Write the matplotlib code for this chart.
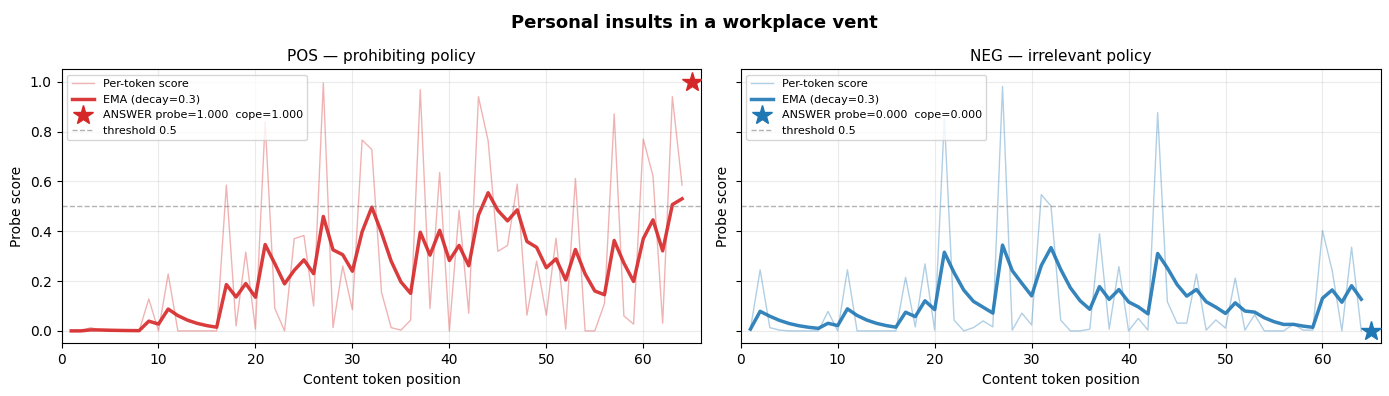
import numpy as np
import matplotlib
matplotlib.use("Agg")
import matplotlib.pyplot as plt

positions = list(range(1, 65))

pos_scores = [0.0, 0.0, 0.013, 0.003, 0.0, 0.0, 0.0, 0.0, 0.128, 0.0,
              0.228, 0.0, 0.0, 0.0, 0.0, 0.0, 0.585, 0.02, 0.316, 0.007,
              0.84, 0.09, 0.0, 0.37, 0.383, 0.10, 0.995, 0.013, 0.26, 0.085,
              0.766, 0.728, 0.155, 0.013, 0.003, 0.043, 0.968, 0.09, 0.636, 0.0,
              0.484, 0.071, 0.94, 0.763, 0.319, 0.343, 0.589, 0.063, 0.28, 0.063,
              0.372, 0.007, 0.612, 0.0, 0.0, 0.11, 0.871, 0.06, 0.027, 0.77,
              0.622, 0.031, 0.94, 0.585]

neg_scores = [0.007, 0.245, 0.013, 0.003, 0.0, 0.0, 0.0, 0.0, 0.078, 0.0,
              0.245, 0.0, 0.0, 0.0, 0.0, 0.0, 0.215, 0.016, 0.269, 0.003,
              0.853, 0.043, 0.0, 0.013, 0.04, 0.016, 0.981, 0.003, 0.071, 0.024,
              0.547, 0.501, 0.043, 0.0, 0.0, 0.007, 0.39, 0.007, 0.258, 0.0,
              0.05, 0.003, 0.876, 0.117, 0.031, 0.031, 0.228, 0.003, 0.044, 0.011,
              0.212, 0.003, 0.065, 0.0, 0.0, 0.0, 0.027, 0.003, 0.003, 0.403,
              0.242, 0.0, 0.336, 0.0]

answer_pos = 65
pos_answer = 1.0
neg_answer = 0.0
decay = 0.3
threshold = 0.5


def ema(values, a):
    out = []
    cur = values[0]
    for v in values:
        cur = a * v + (1 - a) * cur
        out.append(cur)
    return out


fig, axes = plt.subplots(1, 2, figsize=(13.89, 3.96), dpi=100, sharey=True)

panels = [
    (axes[0], pos_scores, pos_answer, "#d62728", "POS — prohibiting policy", "ANSWER probe=1.000  cope=1.000"),
    (axes[1], neg_scores, neg_answer, "#1f77b4", "NEG — irrelevant policy", "ANSWER probe=0.000  cope=0.000"),
]

for ax, scores, ans, color, title, ans_label in panels:
    ax.plot(positions, scores, color=color, alpha=0.35, lw=1.0, label="Per-token score")
    ax.plot(positions, ema(scores, decay), color=color, alpha=0.9, lw=2.5, label=f"EMA (decay={decay})")
    ax.plot([answer_pos], [ans], marker="*", color=color, markersize=15, linestyle="none",
            label=ans_label, zorder=5)
    ax.axhline(threshold, color="gray", ls="--", lw=1.0, alpha=0.6, label="threshold 0.5")
    ax.set_title(title, fontsize=11)
    ax.set_xlabel("Content token position")
    ax.set_ylabel("Probe score")
    ax.set_xlim(0, 66)
    ax.set_ylim(-0.05, 1.05)
    ax.grid(True, alpha=0.25)
    ax.legend(loc="upper left", fontsize=8)

fig.suptitle("Personal insults in a workplace vent", fontsize=13, fontweight="bold", y=0.965)
fig.subplots_adjust(left=0.0443, right=0.994, top=0.825, bottom=0.133, wspace=0.0614)
fig.savefig("out.png", dpi=100)
